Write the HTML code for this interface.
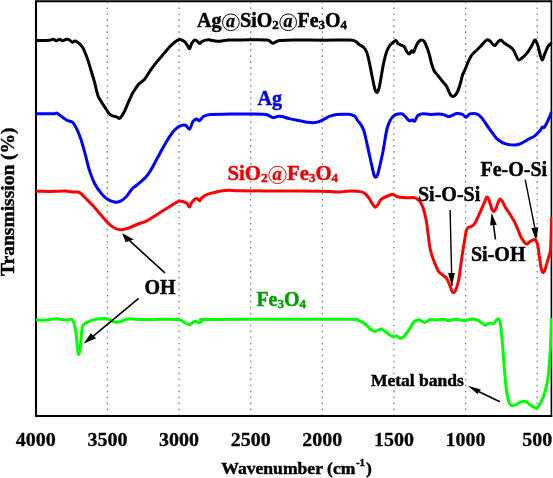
<!DOCTYPE html>
<html><head><meta charset="utf-8"><style>
html,body{margin:0;padding:0;background:#fff;}
svg{display:block;will-change:transform;}
text{font-family:"Liberation Serif",serif;font-weight:bold;stroke-width:0.45px;stroke-linejoin:round;}
.at{fill-opacity:0;stroke-opacity:0;}
</style></head><body>
<svg width="553" height="478" viewBox="0 0 553 478">
<rect x="0" y="0" width="553" height="478" fill="#fff"/>
<g stroke="#808080" stroke-width="1.3" stroke-dasharray="1.6 4.388" fill="none"><line x1="107.4" y1="1.4" x2="107.4" y2="415" /><line x1="179.1" y1="1.4" x2="179.1" y2="415" /><line x1="250.7" y1="1.4" x2="250.7" y2="415" /><line x1="322.3" y1="1.4" x2="322.3" y2="415" /><line x1="393.9" y1="1.4" x2="393.9" y2="415" /><line x1="465.6" y1="1.4" x2="465.6" y2="415" /><line x1="537.2" y1="1.4" x2="537.2" y2="415" /></g>
<g stroke="#000" fill="none">
<line x1="36" y1="0.7" x2="36" y2="417" stroke-width="2.1"/>
<line x1="35" y1="416" x2="552.2" y2="416" stroke-width="2"/>
<line x1="35" y1="1.25" x2="552.2" y2="1.25" stroke-width="1.9"/>
<line x1="551.4" y1="0.7" x2="551.4" y2="417" stroke-width="1.6"/>
</g>
<defs><clipPath id="pc"><rect x="36" y="0" width="516.3" height="416"/></clipPath></defs>
<g fill="none" stroke-width="3" stroke-linejoin="round" stroke-linecap="round" clip-path="url(#pc)">
<path d="M36.0,40.4 C38.3,40.4 46.7,40.4 49.6,40.2 C52.5,40.0 52.1,39.2 53.2,39.3 C54.3,39.4 55.2,40.8 56.3,40.8 C57.3,40.8 58.4,39.3 59.5,39.3 C60.6,39.3 61.5,40.7 62.7,40.7 C63.9,40.7 65.6,39.4 66.7,39.3 C67.8,39.2 68.6,39.5 69.5,40.0 C70.4,40.5 71.3,42.0 72.2,42.2 C73.1,42.4 74.0,41.0 74.9,41.0 C75.8,41.0 76.7,41.6 77.6,42.2 C78.5,42.8 79.4,43.5 80.3,44.5 C81.2,45.5 82.2,46.7 83.0,48.1 C83.8,49.5 84.3,50.8 85.2,53.0 C86.1,55.2 87.3,58.3 88.3,61.4 C89.3,64.5 90.4,68.3 91.4,71.8 C92.5,75.3 93.5,78.4 94.6,82.3 C95.6,86.2 96.7,91.8 97.7,94.9 C98.8,98.0 99.7,99.0 100.9,101.1 C102.1,103.2 103.6,105.3 105.0,107.4 C106.4,109.5 108.0,112.3 109.2,113.7 C110.4,115.1 111.2,115.3 112.4,115.8 C113.6,116.3 115.3,116.4 116.5,116.8 C117.7,117.2 118.5,119.0 119.7,118.3 C120.9,117.6 122.5,115.1 123.9,112.6 C125.3,110.1 126.6,106.3 128.0,103.2 C129.4,100.1 131.2,95.9 132.2,93.8 C133.2,91.7 133.2,92.3 134.2,90.7 C135.2,89.1 136.7,86.3 138.4,84.4 C140.1,82.5 142.5,81.7 144.6,79.2 C146.7,76.8 148.8,72.7 150.9,69.7 C153.0,66.7 155.1,64.0 157.2,61.4 C159.3,58.8 161.4,56.5 163.5,54.1 C165.6,51.7 167.8,48.7 169.7,46.7 C171.6,44.7 173.3,43.1 175.0,41.9 C176.7,40.7 178.0,39.5 179.6,39.4 C181.2,39.3 183.1,40.5 184.4,41.5 C185.7,42.5 186.6,44.5 187.5,45.7 C188.4,46.9 188.9,49.1 189.6,48.8 C190.3,48.4 190.8,45.1 191.7,43.6 C192.6,42.1 193.8,40.3 194.9,40.0 C196.0,39.7 197.2,41.3 198.0,41.9 C198.8,42.5 199.3,43.7 200.0,43.6 C200.7,43.5 200.8,41.9 202.2,41.3 C203.6,40.7 206.2,39.8 208.7,39.8 C211.2,39.8 214.0,41.2 217.4,41.2 C220.8,41.2 224.6,40.3 228.9,40.1 C233.2,39.9 237.1,39.9 243.4,39.9 C249.7,39.9 262.0,39.6 266.6,40.0 C271.2,40.4 269.8,41.6 270.9,42.2 C272.0,42.8 272.4,43.4 273.1,43.4 C273.8,43.4 274.2,42.7 275.3,42.2 C276.4,41.7 276.8,41.0 280.0,40.6 C283.2,40.2 287.3,40.1 294.5,40.0 C301.7,39.9 314.2,40.2 323.4,40.2 C332.6,40.2 344.4,39.9 349.5,40.0 C354.6,40.1 352.6,40.3 353.8,40.6 C355.0,40.9 355.6,41.3 356.5,42.0 C357.4,42.7 358.1,43.7 359.3,44.6 C360.5,45.5 362.3,46.0 363.5,47.2 C364.7,48.4 365.7,50.0 366.6,52.0 C367.5,54.0 368.0,56.3 368.7,59.3 C369.4,62.2 370.1,66.2 370.8,69.7 C371.5,73.2 372.2,76.9 372.9,80.2 C373.6,83.5 374.3,87.6 375.0,89.6 C375.7,91.6 376.4,92.6 377.1,92.3 C377.8,92.0 378.5,90.2 379.2,87.5 C379.9,84.8 380.5,80.3 381.3,76.0 C382.1,71.7 383.1,65.4 384.0,61.4 C384.9,57.4 385.6,54.6 386.5,52.0 C387.4,49.4 388.6,47.3 389.6,45.7 C390.7,44.1 391.8,43.5 392.8,42.6 C393.9,41.7 395.0,40.3 395.9,40.5 C396.8,40.7 397.1,42.8 398.0,43.6 C398.9,44.4 400.1,44.6 401.1,45.1 C402.2,45.6 403.4,45.7 404.3,46.7 C405.2,47.7 405.6,49.7 406.4,50.9 C407.2,52.1 408.2,54.1 409.1,54.1 C410.0,54.1 410.8,51.2 411.6,50.9 C412.4,50.5 412.9,52.9 413.7,52.0 C414.5,51.1 415.1,47.6 416.2,45.7 C417.2,43.8 418.9,41.4 420.0,40.5 C421.1,39.6 422.3,40.1 423.1,40.5 C423.9,40.9 424.1,40.8 425.0,42.8 C425.9,44.8 427.8,49.3 428.8,52.6 C429.9,55.9 430.5,59.7 431.3,62.6 C432.1,65.5 432.8,68.1 433.8,70.2 C434.9,72.3 436.1,73.3 437.6,75.2 C439.1,77.1 441.1,79.7 442.6,81.5 C444.1,83.3 445.3,84.3 446.4,86.0 C447.4,87.7 448.2,90.0 448.9,91.5 C449.6,93.0 450.1,94.4 450.8,95.2 C451.5,96.0 452.2,96.5 452.9,96.5 C453.6,96.5 454.4,96.1 455.2,95.2 C456.0,94.3 456.9,93.2 457.7,91.3 C458.5,89.4 459.4,86.8 460.2,84.0 C461.0,81.2 461.9,77.0 462.7,74.5 C463.5,72.0 464.3,71.5 465.2,69.3 C466.1,67.1 467.2,63.9 468.3,61.6 C469.4,59.3 470.3,57.0 471.5,55.3 C472.7,53.6 473.7,53.1 475.3,51.5 C476.9,49.9 479.3,47.5 481.2,45.6 C483.1,43.7 485.2,40.8 486.7,40.0 C488.2,39.2 488.7,40.2 490.0,41.1 C491.3,42.0 493.2,45.4 494.5,45.6 C495.8,45.8 496.8,43.1 497.8,42.2 C498.8,41.3 499.6,39.8 500.7,40.0 C501.8,40.2 502.9,42.2 504.5,43.3 C506.1,44.4 508.5,45.6 510.0,46.7 C511.5,47.8 512.5,48.7 513.4,50.0 C514.3,51.3 514.8,52.8 515.6,54.5 C516.5,56.2 517.4,59.5 518.5,60.0 C519.6,60.5 520.9,58.9 522.3,57.8 C523.7,56.7 525.3,55.2 526.8,53.4 C528.3,51.5 529.8,48.9 531.2,46.7 C532.6,44.5 533.9,40.2 535.0,40.0 C536.1,39.8 537.0,43.2 537.9,45.6 C538.8,48.0 539.4,52.1 540.1,54.5 C540.8,56.9 541.6,60.0 542.3,60.0 C543.0,60.0 543.6,56.7 544.5,54.5 C545.4,52.3 546.8,48.6 547.9,46.7 C549.0,44.8 550.7,43.9 551.2,43.3" stroke="#000"/>
<path d="M36.0,113.8 C38.8,113.8 49.2,113.9 52.7,113.8 C56.2,113.7 55.5,112.8 56.9,113.2 C58.3,113.6 59.4,115.0 61.1,116.2 C62.9,117.4 65.5,119.5 67.4,120.5 C69.3,121.5 71.0,121.0 72.6,122.4 C74.2,123.8 75.4,126.2 76.8,129.1 C78.2,131.9 79.6,135.3 81.0,139.5 C82.4,143.7 83.8,149.1 85.2,154.2 C86.6,159.3 87.7,165.0 89.3,169.9 C90.9,174.8 92.7,179.7 94.6,183.5 C96.5,187.3 98.8,190.3 100.9,192.9 C103.0,195.5 104.8,197.6 107.1,199.1 C109.4,200.6 112.4,201.6 114.5,202.0 C116.6,202.4 117.8,202.3 119.7,201.5 C121.6,200.7 123.9,199.1 126.0,197.0 C128.1,194.9 130.5,190.6 132.2,188.7 C133.9,186.8 134.1,187.4 136.3,185.5 C138.6,183.6 143.3,179.8 145.7,177.2 C148.1,174.6 149.0,173.1 150.9,169.9 C152.8,166.8 155.1,162.2 157.2,158.3 C159.3,154.5 161.4,150.5 163.5,146.8 C165.6,143.2 167.8,139.2 169.7,136.4 C171.6,133.6 173.2,131.4 175.0,129.7 C176.8,127.9 178.5,126.6 180.2,125.9 C181.9,125.2 183.8,124.8 185.4,125.3 C187.0,125.8 188.4,129.7 189.6,129.1 C190.8,128.5 191.7,123.4 192.8,121.7 C194.0,120.0 195.4,119.2 196.5,119.0 C197.6,118.8 198.4,121.1 199.5,120.7 C200.6,120.3 201.4,117.8 203.2,116.7 C205.0,115.7 206.0,114.8 210.5,114.4 C215.0,114.0 223.4,114.2 230.0,114.1 C236.6,114.0 244.7,113.9 250.0,113.9 C255.3,113.9 259.1,114.0 262.0,114.2 C264.9,114.4 265.9,114.4 267.7,115.0 C269.5,115.6 271.2,117.4 272.9,117.6 C274.6,117.8 276.6,116.4 278.1,116.2 C279.6,116.0 279.9,116.0 282.0,116.5 C284.1,117.0 287.5,118.2 290.5,118.9 C293.5,119.6 297.2,120.2 300.0,120.8 C302.8,121.3 304.8,121.9 307.0,122.2 C309.2,122.5 311.0,122.8 313.0,122.7 C315.0,122.6 317.0,122.3 319.0,121.6 C321.0,120.9 323.2,119.5 325.0,118.6 C326.8,117.7 328.0,116.9 330.0,116.2 C332.0,115.5 333.7,114.7 336.8,114.4 C339.9,114.1 345.8,114.2 348.4,114.3 C351.0,114.4 351.4,115.0 352.5,115.3 C353.6,115.6 354.1,115.2 355.0,116.2 C355.9,117.2 356.9,119.6 357.9,121.0 C358.9,122.4 359.9,123.0 360.9,124.6 C361.9,126.2 362.9,128.1 363.8,130.5 C364.7,132.9 365.1,135.6 366.0,139.3 C366.9,143.0 367.9,148.1 368.9,152.5 C369.9,156.9 370.9,161.8 371.8,165.6 C372.7,169.3 373.4,173.1 374.0,175.0 C374.6,176.9 375.0,177.3 375.6,177.2 C376.2,177.1 377.0,176.3 377.7,174.4 C378.4,172.5 379.0,169.2 379.9,165.6 C380.8,161.9 381.9,156.8 382.8,152.5 C383.7,148.2 384.3,143.6 385.0,139.5 C385.7,135.4 386.3,131.2 387.2,128.0 C388.1,124.8 388.9,122.5 390.1,120.4 C391.3,118.3 393.0,116.4 394.5,115.3 C396.0,114.2 397.6,114.2 398.9,113.9 C400.2,113.7 401.1,113.4 402.2,113.8 C403.3,114.2 404.1,115.3 405.3,116.5 C406.5,117.7 408.0,120.1 409.1,120.7 C410.2,121.3 411.3,120.0 412.2,120.1 C413.1,120.2 413.8,121.9 414.7,121.1 C415.6,120.3 416.5,116.7 417.9,115.5 C419.3,114.3 421.1,114.0 423.1,113.8 C425.1,113.6 427.4,114.4 430.0,114.4 C432.6,114.4 436.5,113.8 438.9,113.9 C441.3,114.0 442.8,114.5 444.5,115.0 C446.2,115.5 446.9,116.8 448.9,116.6 C450.9,116.3 454.5,113.9 456.7,113.5 C458.9,113.1 460.8,113.7 462.3,114.3 C463.9,114.9 464.7,117.3 466.0,117.2 C467.3,117.1 468.2,114.5 470.0,113.9 C471.8,113.4 474.8,113.4 476.7,113.9 C478.6,114.5 479.5,115.4 481.2,117.2 C482.9,119.0 484.8,122.4 486.7,125.0 C488.6,127.6 490.4,130.4 492.3,132.8 C494.2,135.2 495.6,137.7 497.8,139.5 C500.0,141.3 502.8,143.0 505.6,143.9 C508.4,144.8 512.1,145.0 514.5,145.0 C516.9,145.0 517.9,144.8 520.1,143.9 C522.3,143.0 525.5,140.8 527.9,139.5 C530.3,138.2 532.5,137.6 534.5,136.1 C536.5,134.6 538.8,132.1 540.1,130.6 C541.4,129.1 541.6,127.8 542.3,127.2 C543.0,126.6 543.6,128.3 544.5,127.2 C545.4,126.1 546.8,123.0 547.9,120.6 C549.0,118.2 550.7,114.1 551.2,112.8" stroke="#0000ff"/>
<path d="M36.0,191.2 C38.3,191.2 46.5,191.4 50.0,191.4 C53.5,191.4 54.4,191.4 56.9,191.3 C59.4,191.2 62.2,191.0 65.0,191.1 C67.8,191.2 71.4,191.8 73.6,192.0 C75.8,192.2 76.7,191.7 78.0,192.0 C79.3,192.3 80.0,192.7 81.5,194.0 C83.0,195.3 85.2,197.9 87.2,199.9 C89.2,201.9 91.4,203.9 93.5,206.2 C95.6,208.5 97.8,211.2 99.7,213.5 C101.6,215.8 103.2,217.8 105.0,219.7 C106.8,221.6 108.5,223.5 110.2,225.0 C111.9,226.5 113.7,227.7 115.4,228.5 C117.2,229.3 118.8,229.8 120.7,229.8 C122.6,229.8 124.9,229.1 127.0,228.5 C129.1,227.9 131.1,226.8 133.2,226.0 C135.3,225.2 137.4,224.3 139.5,223.5 C141.6,222.7 144.1,222.2 145.8,221.4 C147.6,220.6 148.1,220.1 150.0,218.9 C151.9,217.7 154.8,215.9 157.2,214.4 C159.6,212.9 162.1,211.3 164.5,209.8 C166.9,208.3 169.3,206.7 171.7,205.3 C174.1,203.9 176.9,201.9 178.9,201.3 C180.9,200.7 182.1,201.3 183.5,201.7 C184.9,202.1 186.1,202.6 187.1,203.5 C188.1,204.4 188.7,207.2 189.4,207.1 C190.2,206.9 190.6,203.9 191.6,202.6 C192.6,201.2 194.2,199.7 195.2,199.0 C196.2,198.3 196.7,198.3 197.4,198.6 C198.2,198.9 198.9,201.0 199.7,200.8 C200.5,200.6 201.0,198.3 202.4,197.2 C203.8,196.1 205.8,194.9 207.9,194.1 C210.0,193.3 212.7,192.9 215.1,192.3 C217.5,191.8 219.9,191.1 222.3,190.8 C224.7,190.5 226.6,190.3 229.6,190.3 C232.6,190.3 232.0,190.7 240.4,190.8 C248.8,190.9 266.5,190.9 280.0,191.0 C293.5,191.1 312.6,191.1 321.4,191.2 C330.2,191.3 329.9,191.7 333.0,191.8 C336.1,192.0 337.8,192.2 340.0,192.1 C342.2,192.0 344.0,191.4 346.0,191.2 C348.0,191.0 349.7,190.8 352.0,190.9 C354.3,191.0 357.9,191.2 360.0,191.6 C362.1,192.0 363.1,192.3 364.5,193.3 C365.9,194.3 367.3,195.7 368.6,197.5 C369.9,199.3 371.4,202.4 372.5,204.0 C373.6,205.6 374.4,207.1 375.3,207.2 C376.2,207.3 377.1,205.7 378.0,204.5 C378.9,203.3 379.6,201.0 380.7,199.8 C381.8,198.6 383.0,198.0 384.4,197.3 C385.8,196.6 387.6,196.0 389.0,195.5 C390.4,195.0 391.6,194.1 392.8,194.2 C394.0,194.3 395.1,195.8 396.3,196.3 C397.5,196.8 398.4,196.9 400.0,197.2 C401.6,197.4 403.9,197.8 406.1,197.8 C408.3,197.9 411.3,197.4 413.0,197.5 C414.7,197.6 415.4,197.8 416.5,198.5 C417.6,199.2 418.8,199.9 419.9,201.4 C421.0,202.9 421.9,204.6 423.0,207.7 C424.1,210.8 425.3,215.7 426.2,220.2 C427.1,224.7 427.5,230.0 428.2,234.9 C428.9,239.8 429.4,245.3 430.3,249.5 C431.2,253.7 432.4,257.0 433.5,260.0 C434.6,263.0 435.7,265.3 436.6,267.3 C437.5,269.3 437.5,270.4 438.7,271.8 C439.9,273.2 442.5,274.8 443.9,276.0 C445.3,277.2 446.1,277.4 447.1,279.2 C448.2,280.9 449.3,284.3 450.2,286.5 C451.1,288.7 451.8,291.6 452.7,292.3 C453.6,293.0 454.4,292.7 455.4,290.7 C456.4,288.7 457.7,284.4 458.6,280.2 C459.5,276.0 460.0,270.5 460.7,265.6 C461.4,260.7 462.1,255.4 462.8,250.9 C463.5,246.4 464.3,241.9 464.9,238.4 C465.5,234.9 465.9,231.9 466.5,230.0 C467.1,228.1 467.9,227.7 468.5,227.2 C469.1,226.7 469.6,227.2 470.4,226.9 C471.1,226.6 472.2,226.0 473.0,225.4 C473.8,224.8 474.2,224.4 475.0,223.2 C475.8,222.0 476.7,219.7 477.5,218.0 C478.3,216.3 478.9,214.9 479.7,213.2 C480.4,211.5 481.2,209.6 482.0,207.8 C482.8,206.0 483.6,204.2 484.4,202.4 C485.2,200.6 485.9,197.8 486.6,197.2 C487.3,196.6 487.9,197.7 488.5,198.8 C489.1,199.9 489.7,202.2 490.3,204.0 C490.9,205.8 491.3,208.1 491.9,209.4 C492.5,210.7 493.1,211.8 493.8,211.6 C494.5,211.4 495.3,210.0 496.0,208.5 C496.7,207.0 497.4,204.1 498.1,202.5 C498.8,200.9 499.3,199.2 500.0,199.0 C500.7,198.8 501.6,200.1 502.5,201.5 C503.4,202.9 504.3,205.4 505.5,207.5 C506.7,209.6 508.6,212.2 509.8,214.0 C511.0,215.8 511.7,216.9 512.6,218.5 C513.6,220.1 514.5,221.7 515.5,223.8 C516.5,225.9 517.7,229.0 518.5,231.0 C519.3,233.0 519.8,234.6 520.5,236.0 C521.2,237.4 521.5,238.2 522.5,239.5 C523.5,240.8 524.9,243.7 526.2,244.0 C527.5,244.3 529.0,242.2 530.2,241.5 C531.4,240.8 532.6,239.8 533.5,239.6 C534.4,239.4 535.1,239.8 535.8,240.6 C536.5,241.4 537.0,242.2 537.6,244.6 C538.2,247.0 538.7,251.5 539.2,255.2 C539.8,258.9 540.3,264.0 540.9,266.9 C541.5,269.8 542.0,271.7 542.6,272.3 C543.2,272.9 544.1,271.8 544.8,270.3 C545.5,268.9 546.0,266.1 546.8,263.6 C547.5,261.1 548.7,257.4 549.3,255.2 C549.9,253.0 550.2,254.1 550.5,250.2 C550.8,246.3 551.0,237.4 551.2,232.0 C551.4,226.6 551.5,220.3 551.5,218.0" stroke="#ff0000"/>
<path d="M36.6,320.0 C37.9,320.1 41.3,320.5 44.6,320.3 C47.9,320.1 53.0,318.9 56.4,318.8 C59.8,318.8 62.5,319.9 65.1,320.0 C67.6,320.1 70.2,319.0 71.7,319.5 C73.2,320.0 73.2,320.5 73.9,322.9 C74.6,325.3 75.5,329.6 76.1,333.9 C76.7,338.2 77.2,345.2 77.6,348.6 C78.0,352.0 78.2,354.7 78.7,354.4 C79.2,354.1 79.8,350.6 80.3,347.0 C80.8,343.4 81.1,336.1 81.6,332.5 C82.1,328.9 82.2,326.8 83.1,325.1 C83.9,323.5 85.4,323.3 86.7,322.6 C88.0,321.9 89.4,321.3 91.1,320.7 C92.8,320.1 94.8,319.4 97.0,319.0 C99.2,318.6 102.3,318.6 104.3,318.6 C106.2,318.7 107.2,318.8 108.7,319.3 C110.2,319.8 111.6,321.0 113.1,321.5 C114.6,322.0 116.0,322.3 117.5,322.2 C119.0,322.1 120.5,321.5 121.9,321.0 C123.4,320.5 124.8,319.7 126.2,319.3 C127.7,318.9 128.9,318.8 130.6,318.8 C132.3,318.8 134.1,319.2 136.5,319.3 C138.9,319.4 141.1,319.6 145.0,319.6 C148.9,319.6 154.4,319.2 160.0,319.2 C165.6,319.2 174.4,319.0 178.4,319.5 C182.4,320.0 182.1,321.4 183.9,322.3 C185.7,323.2 187.9,324.9 189.3,324.9 C190.8,324.9 191.6,323.1 192.6,322.5 C193.6,321.9 194.6,321.3 195.5,321.3 C196.4,321.3 197.2,322.4 198.0,322.6 C198.8,322.8 199.6,322.7 200.5,322.3 C201.4,321.9 202.4,320.5 203.5,320.0 C204.6,319.5 194.2,319.5 207.0,319.4 C219.8,319.3 256.2,319.2 280.0,319.2 C303.8,319.2 337.3,319.2 350.0,319.3 C362.7,319.4 354.2,319.5 356.0,319.8 C357.8,320.1 359.3,320.5 361.0,321.4 C362.7,322.2 364.6,323.5 366.2,324.9 C367.8,326.2 369.1,328.4 370.5,329.5 C371.9,330.6 373.6,331.1 374.9,331.2 C376.2,331.3 377.0,330.5 378.1,330.1 C379.2,329.8 380.3,328.9 381.4,329.1 C382.5,329.3 383.3,330.3 384.6,331.2 C385.9,332.1 387.6,333.6 389.0,334.5 C390.4,335.4 392.0,336.4 393.3,336.7 C394.6,336.9 395.5,335.8 396.6,336.0 C397.7,336.2 398.7,338.0 399.8,338.2 C400.9,338.4 402.0,338.1 403.1,337.3 C404.2,336.5 405.1,335.0 406.3,333.4 C407.5,331.8 409.3,329.2 410.4,327.5 C411.5,325.8 412.1,324.1 413.0,323.0 C413.9,321.9 414.7,321.1 415.8,320.6 C416.9,320.1 418.4,319.9 419.5,320.0 C420.6,320.1 421.6,321.1 422.5,321.5 C423.4,321.9 424.1,322.6 424.9,322.5 C425.7,322.4 426.6,321.5 427.5,321.0 C428.4,320.5 428.8,319.8 430.3,319.6 C431.8,319.4 434.3,320.1 436.6,320.0 C438.9,319.9 441.9,319.1 443.9,319.2 C445.9,319.3 446.4,320.6 448.4,320.6 C450.3,320.6 452.9,319.2 455.6,319.2 C458.3,319.2 462.0,320.7 464.7,320.6 C467.4,320.6 469.8,319.0 471.9,318.9 C474.0,318.8 475.7,319.4 477.3,320.0 C478.9,320.6 480.1,321.9 481.5,322.8 C482.9,323.7 484.4,325.1 485.5,325.2 C486.6,325.3 487.2,324.0 488.0,323.6 C488.8,323.2 489.1,323.0 490.0,323.0 C490.9,323.0 492.6,324.0 493.6,323.6 C494.6,323.2 495.2,321.3 496.0,320.5 C496.8,319.7 497.5,318.7 498.1,318.8 C498.7,318.9 499.3,319.3 499.8,321.0 C500.3,322.7 500.6,324.5 501.1,329.1 C501.6,333.7 502.2,341.6 502.8,348.5 C503.4,355.4 503.9,363.5 504.5,370.4 C505.1,377.3 505.7,384.6 506.4,389.8 C507.1,395.1 507.9,399.3 508.8,401.9 C509.7,404.5 510.5,405.2 511.7,405.6 C512.9,406.0 514.6,405.0 516.1,404.4 C517.6,403.8 519.4,402.4 521.0,401.9 C522.6,401.4 524.4,401.1 525.8,401.5 C527.2,401.9 528.3,403.5 529.5,404.4 C530.7,405.3 531.9,406.2 533.1,406.8 C534.3,407.4 535.5,408.6 536.7,408.0 C537.9,407.4 539.2,405.4 540.4,403.2 C541.6,401.0 542.8,398.5 544.0,394.7 C545.2,390.9 546.8,385.8 547.7,380.1 C548.6,374.4 549.1,367.6 549.6,360.7 C550.1,353.8 550.5,345.7 550.8,338.8 C551.1,331.9 551.2,322.6 551.3,319.4" stroke="#00ff00"/>
</g>
<line x1="164.9" y1="272.9" x2="129.8" y2="240.9" stroke="#000" stroke-width="1.6"/><polygon points="122.2,233.2 125.7,242.3 133.9,239.4" fill="#000"/><line x1="138.7" y1="298.3" x2="93.5" y2="335.8" stroke="#000" stroke-width="1.6"/><polygon points="83.8,343.4 90.8,333.2 96.2,338.3" fill="#000"/><line x1="450.1" y1="210.1" x2="451.9" y2="286" stroke="#000" stroke-width="1.4"/><polygon points="451.9,286.5 448.1,272.9 454.8,272.9" fill="#000"/><line x1="495.5" y1="239.5" x2="493.5" y2="225.1" stroke="#000" stroke-width="1.6"/><polygon points="491.5,212.7 490.2,225.4 496.8,224.7" fill="#000"/><line x1="525.2" y1="179.7" x2="534.8" y2="227.6" stroke="#000" stroke-width="1.4"/><polygon points="536.2,240.6 531.3,228.0 538.4,227.2" fill="#000"/><line x1="499.8" y1="401.7" x2="479.2" y2="391.8" stroke="#000" stroke-width="1.6"/><polygon points="467.7,385.8 480.8,389.5 477.6,394.0" fill="#000"/>
<g font-size="20" fill="#000" stroke="#000"><text transform="translate(35.8,446) scale(1,0.95)" x="0" y="0" text-anchor="middle" style="stroke-width:0.3px">4000</text><text transform="translate(107.4,446) scale(1,0.95)" x="0" y="0" text-anchor="middle" style="stroke-width:0.3px">3500</text><text transform="translate(179.1,446) scale(1,0.95)" x="0" y="0" text-anchor="middle" style="stroke-width:0.3px">3000</text><text transform="translate(250.7,446) scale(1,0.95)" x="0" y="0" text-anchor="middle" style="stroke-width:0.3px">2500</text><text transform="translate(322.3,446) scale(1,0.95)" x="0" y="0" text-anchor="middle" style="stroke-width:0.3px">2000</text><text transform="translate(393.9,446) scale(1,0.95)" x="0" y="0" text-anchor="middle" style="stroke-width:0.3px">1500</text><text transform="translate(465.6,446) scale(1,0.95)" x="0" y="0" text-anchor="middle" style="stroke-width:0.3px">1000</text><text transform="translate(537.2,446) scale(1,0.95)" x="0" y="0" text-anchor="middle" style="stroke-width:0.3px">500</text></g>
<text x="197" y="27" font-size="20" fill="#000" stroke="#000">Ag<tspan class="at">@</tspan>SiO<tspan font-size="13" dy="2">2</tspan><tspan dy="-2"><tspan class="at">@</tspan>Fe</tspan><tspan font-size="13" dy="2">3</tspan><tspan dy="-2">O</tspan><tspan font-size="13" dy="2">4</tspan></text>
<text x="257.5" y="104.5" font-size="20" fill="#0000ee" stroke="#0000ee">Ag</text>
<text x="227.5" y="179.8" font-size="20.75" fill="#ee0000" stroke="#ee0000">SiO<tspan font-size="13.5" dy="2">2</tspan><tspan dy="-2"><tspan class="at">@</tspan>Fe</tspan><tspan font-size="13" dy="2">3</tspan><tspan dy="-2">O</tspan><tspan font-size="13" dy="2">4</tspan></text>
<text x="256.4" y="306.4" font-size="20" fill="#00a000" stroke="#00a000">Fe<tspan font-size="13" dy="2">3</tspan><tspan dy="-2">O</tspan><tspan font-size="13" dy="2">4</tspan></text>
<text x="418" y="200.6" font-size="20" fill="#000" stroke="#000">Si-O-Si</text>
<text x="480.5" y="175.5" font-size="20" fill="#000" stroke="#000">Fe-O-Si</text>
<text x="471" y="260.6" font-size="20" fill="#000" stroke="#000">Si-OH</text>
<text x="144.5" y="294" font-size="20" fill="#000" stroke="#000">OH</text>
<text x="371" y="386" font-size="17.5" fill="#000" stroke="#000">Metal bands</text>
<text x="221.3" y="473.8" font-size="17.6" fill="#000" stroke="#000">Wavenumber (cm<tspan font-size="10.8" dy="-8" dx="0.6">-1</tspan><tspan dy="8" dx="1">)</tspan></text>
<text transform="translate(13.8,276) rotate(-90)" x="0" y="0" font-size="19.5" fill="#000" stroke="#000">Transmission (%)</text>
<circle cx="230.85" cy="22.30" r="8.35" fill="none" stroke="#000" stroke-width="0.95"/><text x="226.05" y="26.80" font-size="18.00" font-style="italic" fill="#000" stroke="#000" style="stroke-width:0.3px">a</text><circle cx="288.21" cy="22.30" r="8.35" fill="none" stroke="#000" stroke-width="0.95"/><text x="283.41" y="26.80" font-size="18.00" font-style="italic" fill="#000" stroke="#000" style="stroke-width:0.3px">a</text><circle cx="277.46" cy="174.92" r="8.66" fill="none" stroke="#ee0000" stroke-width="0.99"/><text x="272.48" y="179.60" font-size="18.68" font-style="italic" fill="#ee0000" stroke="#ee0000" style="stroke-width:0.3px">a</text>
</svg>
</body></html>
